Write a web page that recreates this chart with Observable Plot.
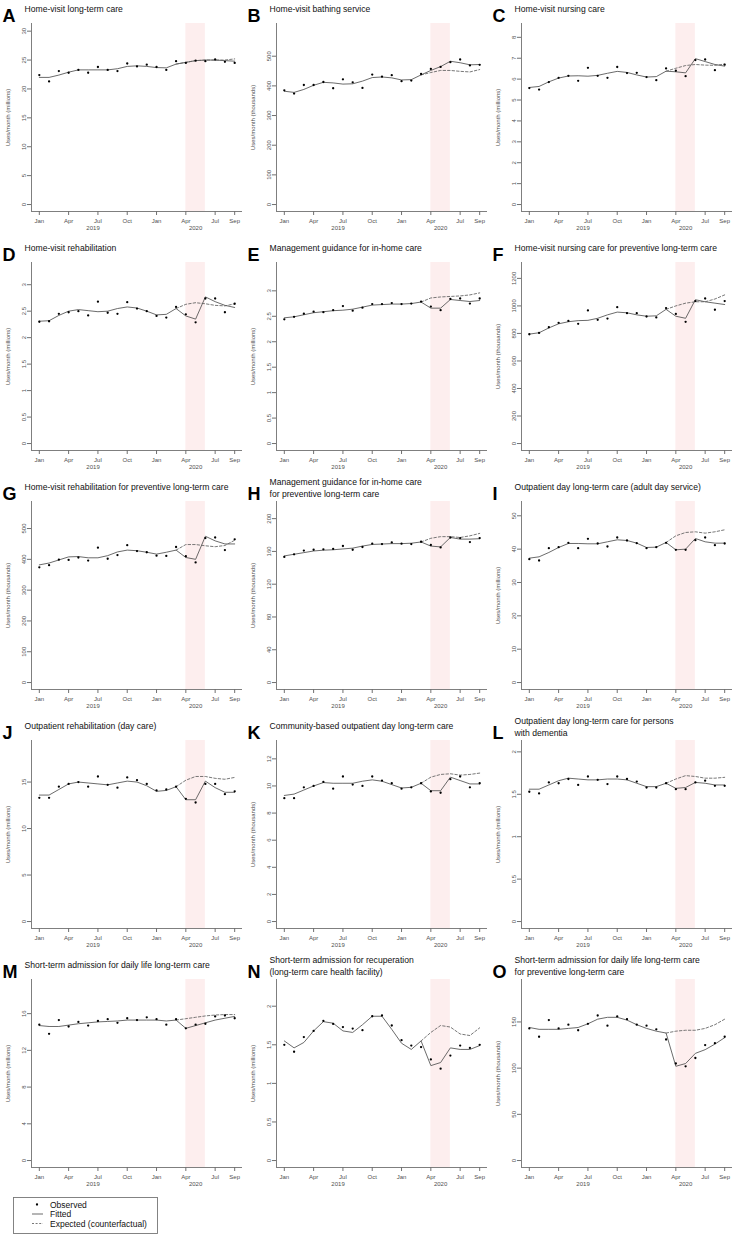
<!DOCTYPE html>
<html>
<head>
<meta charset="utf-8">
<script src="https://cdn.jsdelivr.net/npm/d3@7"></script>
<script src="https://cdn.jsdelivr.net/npm/@observablehq/plot@0.6"></script>
<style>
  body { margin: 0; background: #fff; font-family: "Liberation Sans", Arial, sans-serif; }
  #fig { position: relative; width: 734px; height: 1235px; overflow: hidden; background: #fff; }
  .panel { position: absolute; width: 245px; height: 240px; }
  .panel svg { background: transparent !important; overflow: visible; }
  #legend { position: absolute; left: 13px; top: 1197px; }
</style>
</head>
<body>
<div id="fig"></div>
<script>
// ---------- categories / labels ----------
const letters = ["A","B","C","D","E","F","G","H","I","J","K","L","M","N","O"];
const titles = [
  "Home-visit long-term care",
  "Home-visit bathing service",
  "Home-visit nursing care",
  "Home-visit rehabilitation",
  "Management guidance for in-home care",
  "Home-visit nursing care for preventive long-term care",
  "Home-visit rehabilitation for preventive long-term care",
  "Management guidance for in-home care\nfor preventive long-term care",
  "Outpatient day long-term care (adult day service)",
  "Outpatient rehabilitation (day care)",
  "Community-based outpatient day long-term care",
  "Outpatient day long-term care for persons\nwith dementia",
  "Short-term admission for daily life long-term care",
  "Short-term admission for recuperation\n(long-term care health facility)",
  "Short-term admission for daily life long-term care\nfor preventive long-term care"
];
const units = ["millions","thousands","millions","millions","millions","thousands","thousands","thousands",
               "millions","millions","thousands","millions","millions","millions","thousands"];
const yTickSteps = [5, 100, 1, 0.5, 0.5, 200, 100, 40, 10, 5, 2, 0.5, 4, 0.5, 50];

// months Jan 2019 (0) ... Sep 2020 (20)
const xTickMonths = [0, 3, 6, 9, 12, 15, 18, 20];
const xTickLabels = ["Jan", "Apr", "Jul", "Oct", "Jan", "Apr", "Jul", "Sep"];
const yearLabels = ["2019", "2020"];
const yearFirstMonth = [0, 12];
const yearLastMonth = [11, 20];
const emergencyPeriod = [15, 17];   // Apr 2020 – Jun 2020
const expectedStart = 14;           // counterfactual starts Mar 2020

// ---------- series values ----------
const obsA = [22.4, 21.3, 23.1, 22.8, 23.3, 22.8, 23.8, 23.3, 23.1, 24.4, 23.9, 24.2, 23.8, 23.3, 24.8, 24.5, 24.9, 24.8, 25.1, 24.7, 24.5];
const fitA = [22.0, 22.0, 22.4, 22.9, 23.3, 23.3, 23.3, 23.3, 23.5, 23.9, 24.0, 23.9, 23.7, 23.65, 24.3, 24.6, 24.9, 25.0, 25.0, 24.9, 24.8];
const expA = [24.3, 24.6, 24.9, 25.0, 25.0, 25.0, 25.2];

const obsB = [385, 374, 403, 403, 413, 392, 422, 412, 393, 438, 431, 436, 416, 418, 440, 457, 464, 480, 489, 469, 471];
const fitB = [382, 378, 388, 402, 412, 410, 406, 407, 416, 428, 430, 427, 420, 421, 437, 452, 465, 483, 478, 471, 472];
const expB = [437, 445, 452, 452, 449, 447, 455];

const obsC = [5.57, 5.50, 5.86, 6.06, 6.16, 5.92, 6.54, 6.16, 6.06, 6.58, 6.29, 6.30, 6.10, 5.95, 6.51, 6.40, 6.14, 6.91, 6.94, 6.43, 6.69];
const fitC = [5.60, 5.65, 5.87, 6.05, 6.15, 6.16, 6.14, 6.18, 6.28, 6.37, 6.32, 6.20, 6.10, 6.12, 6.38, 6.35, 6.30, 6.98, 6.84, 6.70, 6.62];
const expC = [6.38, 6.52, 6.65, 6.70, 6.67, 6.66, 6.72];

const obsD = [2.30, 2.31, 2.45, 2.48, 2.50, 2.42, 2.68, 2.47, 2.45, 2.67, 2.55, 2.50, 2.41, 2.38, 2.58, 2.44, 2.29, 2.74, 2.74, 2.48, 2.64];
const fitD = [2.31, 2.32, 2.42, 2.50, 2.53, 2.51, 2.49, 2.50, 2.55, 2.58, 2.56, 2.50, 2.43, 2.44, 2.55, 2.41, 2.35, 2.77, 2.68, 2.61, 2.57];
const expD = [2.55, 2.63, 2.66, 2.64, 2.61, 2.60, 2.64];

const obsE = [2.44, 2.49, 2.55, 2.59, 2.58, 2.62, 2.70, 2.61, 2.67, 2.74, 2.74, 2.76, 2.74, 2.75, 2.79, 2.69, 2.62, 2.84, 2.85, 2.75, 2.85];
const fitE = [2.47, 2.49, 2.53, 2.57, 2.59, 2.61, 2.62, 2.64, 2.68, 2.72, 2.73, 2.74, 2.74, 2.75, 2.78, 2.66, 2.66, 2.83, 2.81, 2.79, 2.81];
const expE = [2.78, 2.86, 2.88, 2.89, 2.90, 2.92, 2.96];

const obsF = [794, 804, 845, 877, 891, 870, 967, 899, 908, 991, 947, 947, 923, 916, 984, 942, 884, 1035, 1054, 972, 1035];
const fitF = [795, 805, 840, 870, 885, 893, 895, 910, 935, 955, 950, 935, 925, 928, 975, 925, 910, 1045, 1030, 1020, 1010];
const expF = [975, 1000, 1020, 1030, 1030, 1050, 1080];

const obsG = [374, 381, 399, 398, 406, 396, 438, 402, 414, 446, 427, 423, 412, 411, 440, 410, 390, 469, 471, 430, 465];
const fitG = [382, 388, 398, 408, 409, 405, 405, 412, 424, 430, 428, 423, 417, 423, 430, 406, 400, 475, 460, 450, 450];
const expG = [430, 448, 448, 444, 441, 445, 462];

const obsH = [153.3, 156.5, 161, 162, 162.6, 163, 166.6, 162, 165.4, 169.4, 169, 171, 169.4, 169, 171.8, 167.8, 164.9, 177, 176.3, 171.4, 176.3];
const fitH = [154.5, 156.5, 158.5, 160.5, 161.5, 162, 163, 164, 166.5, 168.5, 169, 169.5, 169.5, 170, 171.5, 166.5, 165.5, 177, 175, 175, 175.5];
const expH = [171.5, 176, 178, 178, 177, 179, 182];

const obsI = [37.0, 36.6, 40.3, 40.6, 41.9, 40.3, 43.1, 41.7, 40.8, 43.5, 42.6, 41.8, 40.3, 40.6, 41.9, 39.8, 39.8, 42.7, 43.5, 41.2, 41.7];
const fitI = [37.3, 37.7, 39.0, 40.5, 41.7, 41.7, 41.6, 41.6, 42.2, 42.8, 42.6, 41.8, 40.5, 40.6, 42.0, 39.8, 40.0, 43.2, 42.2, 41.8, 41.8];
const expI = [42.0, 44.0, 45.0, 45.2, 44.8, 45.2, 45.8];

const obsJ = [13.3, 13.3, 14.5, 14.8, 15.0, 14.5, 15.6, 14.7, 14.4, 15.5, 15.2, 14.8, 14.1, 14.2, 14.5, 13.2, 12.8, 14.8, 14.8, 13.7, 14.0];
const fitJ = [13.6, 13.6, 14.2, 14.8, 15.0, 14.9, 14.8, 14.7, 14.9, 15.1, 15.0, 14.6, 14.0, 14.1, 14.5, 13.1, 13.1, 15.1, 14.4, 13.9, 13.9];
const expJ = [14.5, 15.2, 15.6, 15.6, 15.4, 15.3, 15.5];

const obsK = [9.1, 9.1, 9.9, 10.0, 10.3, 9.8, 10.7, 10.1, 10.0, 10.7, 10.4, 10.2, 9.8, 9.9, 10.2, 9.6, 9.5, 10.5, 10.7, 9.9, 10.2];
const fitK = [9.3, 9.4, 9.7, 10.0, 10.25, 10.2, 10.2, 10.2, 10.35, 10.45, 10.35, 10.1, 9.85, 9.9, 10.2, 9.65, 9.65, 10.65, 10.4, 10.15, 10.15];
const expK = [10.2, 10.65, 10.85, 10.9, 10.8, 10.85, 10.95];

const obsL = [1.53, 1.51, 1.64, 1.63, 1.68, 1.61, 1.71, 1.67, 1.62, 1.71, 1.68, 1.65, 1.58, 1.58, 1.63, 1.56, 1.56, 1.64, 1.66, 1.60, 1.60];
const fitL = [1.56, 1.56, 1.61, 1.66, 1.69, 1.68, 1.67, 1.67, 1.68, 1.68, 1.67, 1.63, 1.59, 1.59, 1.63, 1.57, 1.58, 1.64, 1.63, 1.61, 1.61];
const expL = [1.63, 1.68, 1.72, 1.71, 1.69, 1.69, 1.70];

const obsM = [14.8, 13.8, 15.3, 14.6, 15.1, 14.7, 15.2, 15.4, 15.0, 15.5, 15.3, 15.6, 15.4, 14.8, 15.4, 14.4, 14.8, 14.9, 15.7, 15.8, 15.5];
const fitM = [14.7, 14.6, 14.6, 14.75, 14.9, 15.0, 15.1, 15.15, 15.2, 15.3, 15.3, 15.3, 15.3, 15.2, 15.3, 14.4, 14.7, 15.0, 15.3, 15.5, 15.7];
const expM = [15.3, 15.45, 15.6, 15.75, 15.85, 15.9, 15.9];

const obsN = [1.50, 1.41, 1.60, 1.68, 1.81, 1.77, 1.73, 1.71, 1.69, 1.87, 1.88, 1.75, 1.56, 1.49, 1.47, 1.31, 1.19, 1.36, 1.49, 1.46, 1.50];
const fitN = [1.55, 1.46, 1.53, 1.68, 1.80, 1.78, 1.68, 1.66, 1.76, 1.87, 1.87, 1.70, 1.52, 1.44, 1.55, 1.23, 1.27, 1.46, 1.44, 1.44, 1.49];
const expN = [1.55, 1.66, 1.75, 1.73, 1.64, 1.62, 1.72];

const obsO = [143, 134, 152, 143, 147, 141, 148, 157, 146, 156, 153, 147, 146, 142, 131, 105, 102, 111, 125, 127, 134];
const fitO = [144, 142, 142, 142, 143, 144, 148, 153, 155, 155, 152, 147, 143, 140, 138, 102, 105, 116, 120, 126, 133];
const expO = [138, 140, 141, 141, 143, 147, 153];

const observedSeries = [obsA, obsB, obsC, obsD, obsE, obsF, obsG, obsH, obsI, obsJ, obsK, obsL, obsM, obsN, obsO];
const fittedSeries   = [fitA, fitB, fitC, fitD, fitE, fitF, fitG, fitH, fitI, fitJ, fitK, fitL, fitM, fitN, fitO];
const expectedSeries = [expA, expB, expC, expD, expE, expF, expG, expH, expI, expJ, expK, expL, expM, expN, expO];

// ---------- layout ----------
const FONT = "'Liberation Sans', Arial, Helvetica, sans-serif";
const panelW = 245, panelH = 240, rowStep = 239;
const mT = 23, mR = 3, mB = 29, mL = 31;
const fig = document.getElementById("fig");
const measure = document.createElement("canvas").getContext("2d");
measure.font = "8.6px 'Liberation Sans'";
const fmt = d3.format("~g");
const AXIS = "#707070", FIT = "#505050", EXP = "#606060", SHADE = "#fdeeee";

letters.forEach((letter, i) => {
  const col = i % 3, row = Math.floor(i / 3);
  const obs = observedSeries[i], fit = fittedSeries[i], exp = expectedSeries[i];
  const n = obs.length;
  const xPad = 0.04 * (n - 1);
  const M = 1.2 * d3.max(obs);
  const yPad = 0.04 * M;
  const yTicks = d3.range(0, M + 1e-9, yTickSteps[i]).map(v => +v.toFixed(6));
  const lines = titles[i].split("\n");
  const tw = d3.max(lines, s => measure.measureText(s).width);
  const tx = Math.min(24, 241 - tw);

  const chart = Plot.plot({
    width: panelW, height: panelH,
    marginTop: mT, marginRight: mR, marginBottom: mB, marginLeft: mL,
    x: {domain: [-xPad, n - 1 + xPad]},
    y: {domain: [-yPad, M + yPad]},
    style: {fontFamily: FONT, color: "#505050", background: "transparent", overflow: "visible"},
    marks: [
      Plot.rect([emergencyPeriod], {x1: d => d[0], x2: d => d[1], fill: SHADE}),
      Plot.ruleX([-xPad], {stroke: AXIS, strokeWidth: 0.9}),
      Plot.ruleY([-yPad], {stroke: AXIS, strokeWidth: 0.9}),
      Plot.axisY(yTicks, {
        tickSize: 4, tickRotate: -90, tickPadding: 2, fontSize: 6,
        tickFormat: fmt, label: `Uses/month (${units[i]})`, labelAnchor: "center",
        labelOffset: 26, labelArrow: "none", stroke: AXIS
      }),
      Plot.axisX(xTickMonths, {
        tickSize: 4, tickPadding: 3, fontSize: 6, stroke: AXIS,
        tickFormat: d => xTickLabels[xTickMonths.indexOf(d)], label: null
      }),
      Plot.text(yearLabels, {
        x: (d, k) => (yearFirstMonth[k] + yearLastMonth[k]) / 2,
        frameAnchor: "bottom", dy: 18, fontSize: 6, fill: "#505050"
      }),
      Plot.line(fit, {x: (d, k) => k, y: d => d, stroke: FIT, strokeWidth: 0.85}),
      Plot.line(exp, {x: (d, k) => expectedStart + k, y: d => d, stroke: EXP, strokeWidth: 0.85, strokeDasharray: "2.5,2"}),
      Plot.dot(obs, {x: (d, k) => k, y: d => d, r: 1.15, fill: "#000", stroke: null}),
      Plot.text([letter], {
        frameAnchor: "top-left", dx: 2 - mL, dy: -2, lineAnchor: "bottom", textAnchor: "start",
        fontSize: 18, fontWeight: "bold", fill: "#000"
      }),
      Plot.text([titles[i]], {
        frameAnchor: "top-left", dx: tx - mL, dy: lines.length > 1 ? -5 : -12,
        lineAnchor: "bottom", textAnchor: "start", fontSize: 8.6, lineHeight: 1.3, fill: "#111"
      })
    ]
  });
  const div = document.createElement("div");
  div.className = "panel";
  div.style.left = (col * panelW) + "px";
  div.style.top = (row * rowStep) + "px";
  div.appendChild(chart);
  fig.appendChild(div);
});

// ---------- legend ----------
const legendItems = ["Observed", "Fitted", "Expected (counterfactual)"];
const lg = d3.select(fig).append("svg").attr("id", "legend")
  .attr("width", 146).attr("height", 38)
  .style("font-family", FONT);
lg.append("rect").attr("x", 0.5).attr("y", 0.5).attr("width", 144).attr("height", 36)
  .attr("fill", "#fff").attr("stroke", "#777").attr("stroke-width", 0.9);
legendItems.forEach((t, k) => {
  const cy = 7.5 + k * 9.5;
  if (k === 0) lg.append("circle").attr("cx", 24).attr("cy", cy).attr("r", 1.15).attr("fill", "#000");
  else lg.append("line").attr("x1", 19).attr("x2", 30).attr("y1", cy).attr("y2", cy)
        .attr("stroke", k === 1 ? FIT : EXP).attr("stroke-width", 0.85)
        .attr("stroke-dasharray", k === 2 ? "2,1.6" : null);
  lg.append("text").attr("x", 37).attr("y", cy + 3).attr("font-size", 8.5).attr("fill", "#111").text(t);
});
</script>
</body>
</html>
